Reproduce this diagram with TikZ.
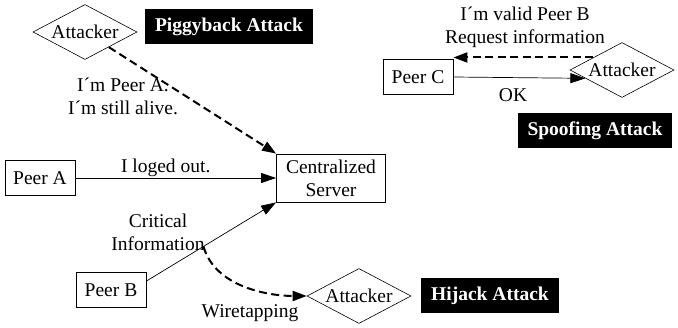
\documentclass[tikz,border=0pt]{standalone}
\usepackage{fontspec}
\setmainfont{Liberation Serif}
\usetikzlibrary{shapes.geometric,arrows.meta,calc}

\tikzset{
  peer/.style={draw, line width=0.8pt, minimum width=70pt, minimum height=35pt, inner sep=2pt},
  attacker/.style={draw, diamond, line width=0.6pt, aspect=2, inner sep=0pt,
    minimum width=104pt, minimum height=55pt},
  attack/.style={fill=black, text=white, font=\fontsize{19.5}{22}\selectfont\bfseries,
    minimum height=35pt, inner xsep=10pt},
  msg/.style={line width=0.7pt, -{Triangle[length=15pt,width=10pt]}},
  fake/.style={line width=2pt, dash pattern=on 8pt off 4.5pt, -{Triangle[length=14pt,width=10pt]}},
}

\begin{document}
\begin{tikzpicture}[x=1pt, y=-1pt, font=\fontsize{19.5}{23}\selectfont]
  \useasboundingbox (0,0) rectangle (678,328);

  % Les noeuds
  \node[attacker] (atkA) at (85,32) {Attacker};
  \node[attack] (piggy) at (229,26.5) {Piggyback Attack};
  \node[peer] (pa) at (40,178) {Peer A};
  \node[draw, line width=0.8pt, align=center, minimum width=109pt, minimum height=48pt,
    inner sep=1pt] (srv) at (331,178) {Centralized\\Server};
  \node[peer] (pb) at (111,290) {Peer B};
  \node[attacker] (atkB) at (359,296) {Attacker};
  \node[attack] (hijack) at (490,296) {Hijack Attack};
  \node[peer] (pc) at (418,77) {Peer C};
  \node[attacker] (atkC) at (622,70) {Attacker};
  \node[attack] (spoof) at (595,131) {Spoofing Attack};

  % Les textes
  \node[align=center] (lblA) at (123,96) {I´m Peer A.\\I´m still alive.};
  \node[align=center] (lblCrit) at (158,232) {Critical\\Information};
  \node (lblWire) at (250,313) {Wiretapping};
  \node[align=center] (lblSpoof) at (525,27) {I´m valid Peer B\\Request information};
  \node (lblOk) at (513,95) {OK};

  % Les fleches
  \draw[fake] (atkA) -- (srv.north west);
  \draw[msg] (pa) -- node[pos=0.45, above, inner sep=1pt] {I loged out.} (srv);
  \draw[msg] ($(pb.north east)!0.25!(pb.south east)$) -- coordinate[pos=0.44] (tap) (srv.south west);
  \draw[fake] (tap) .. controls +(12,42) and +(-35,0) .. (atkB.west);

  \coordinate (spoofIn) at ($(atkC.west)!0.45!(atkC.north)$);
  \draw[fake] (spoofIn) -- (spoofIn -| pc.east);
  \draw[msg] (pc.east) -- ($(atkC.west)!0.3!(atkC.south)$);

\end{tikzpicture}
\end{document}
